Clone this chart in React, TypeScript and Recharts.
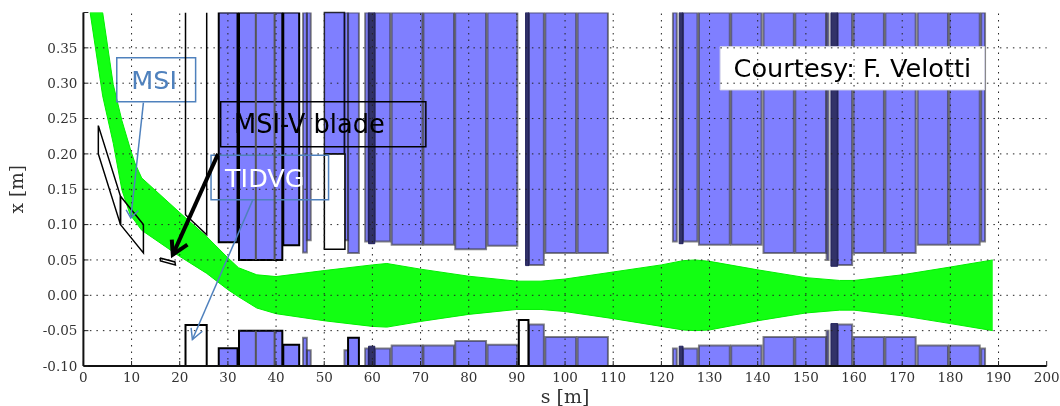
import React from 'react';
import { ComposedChart, XAxis, YAxis, Area, Line, ReferenceArea, ReferenceLine } from 'recharts';

const xTicks = [0,10,20,30,40,50,60,70,80,90,100,110,120,130,140,150,160,170,180,190,200];
const yTicks = [-0.1,-0.05,0,0.05,0.1,0.15,0.2,0.25,0.3,0.35,0.4];

const beamS =  [1.4,4,6.2,8,9.7,10.7,12.1,20,25.6,30,32.2,36,40,50,60,63,70,80,90,95,100,110,120,124.5,127,130,140,150,157,160,170,180,188.8];
const beamHi = [.4,.4,.298,.247,.208,.187,.166,.117,.083,.053,.039,.029,.0265,.035,.043,.045,.037,.027,.02,.02,.023,.033,.043,.049,.05,.048,.036,.025,.021,.021,.029,.04,.05];
const beamLo = [.4,.282,.215,.149,.114,.105,.092,.055,.031,.008,-.002,-.018,-.026,-.036,-.044,-.045,-.037,-.027,-.02,-.02,-.023,-.033,-.044,-.049,-.05,-.049,-.036,-.025,-.021,-.021,-.029,-.04,-.05];

// [s start, s end, lower edge of upper jaw, upper edge of lower jaw]
const magnets = [
  [45.6,46.4,.0607,-.06],[46.4,47.2,.0777,-.0777],
  [54.2,54.95,.0777,-.0777],
  [58.5,59.2,.076,-.0753],[60.5,63.7,.076,-.0753],
  [64,70.4,.0716,-.071],[70.6,76.95,.0716,-.071],[77.2,83.6,.065,-.0645],[83.9,90.1,.07,-.07],
  [92.5,95.6,.043,-.0414],[95.9,102.3,.06,-.059],[102.6,108.9,.06,-.059],
  [122.4,123.2,.076,-.0753],[124.5,127.5,.076,-.0753],
  [127.8,134.2,.0716,-.071],[134.5,140.8,.0716,-.071],[141.2,147.5,.06,-.059],[147.8,154.2,.06,-.059],
  [154.3,154.7,.05,-.05],[156.6,159.6,.043,-.0414],[159.9,166.2,.06,-.059],[166.5,172.8,.06,-.059],
  [173.2,179.5,.0716,-.071],[179.8,186.1,.0716,-.071],[186.4,187.2,.076,-.0753],
];
const outlinedMagnets = [[28.1,32,.075,-.075],[32.3,41.3,.05,-.05],[41.5,44.8,.0707,-.07]];
const lowerOutlined = [[54.95,57.2,.06,-.06]];
const darkBands = [[59.2,60.5,.073,-.072],[91.8,92.5,.042,-.0414],[123.7,124.5,.073,-.072],[155.2,156.6,.041,-.04]];
const stripes = [35.8,39.7];
const upperOnly = [50.03,54.2,.2];
const whiteBoxUpper = [50.03,54.3,.065,.2];
const whiteBoxes = [[21.2,25.6,-.1,-.042],[90.4,92.4,-.1,-.035]];

const msiA = [[3.1,.24],[3.1,.2],[7.7,.1],[7.7,.14],[3.1,.24]];
const msiB = [[7.7,.14],[12.46,.1],[12.46,.06],[7.7,.1],[7.7,.14]];
const blade = [[15.9,.0528],[19,.0472],[19.1,.0429],[16,.0485],[15.9,.0528]];
const tidvgUp = [[21.2,.4],[21.2,.114],[25.6,.0857],[25.6,.4]];
const bladeShaft = [[27.96,.2],[18.56,.0575]];
const bladeHead = [[18.35,.0787],[18.56,.0575],[21.6,.0716]];
const msiShaft = [[12.46,.2726],[9.84,.1093]];
const msiHead = [[8.86,.121],[9.84,.1093],[11.42,.12]];
const tidvgShaft = [[35.17,.135],[22.63,-.0626]];
const tidvgHead = [[22.36,-.046],[22.63,-.0626],[24.7,-.0508]];

const beam = beamS.map((s, i) => ({ s, range: [beamLo[i], beamHi[i]] }));
const pts = (a: number[][]) => a.map(([s, y]) => ({ s, y }));

const BLUE = '#0000ff';
const ANN = '#4f81bd';
const serif = '"DejaVu Serif", serif';
const sans = '"DejaVu Sans", sans-serif';

function jaw(m: number[][], key: string, fill: string, fo: number, stroke: string, so: number, sw: number, up = true, low = true) {
  const out: any[] = [];
  m.forEach((r, i) => {
    if (up) out.push(<ReferenceArea key={`${key}u${i}`} x1={r[0]} x2={r[1]} y1={r[2]} y2={0.4} fill={fill} fillOpacity={fo} stroke={stroke} strokeOpacity={so} strokeWidth={sw} ifOverflow="hidden" />);
    if (low) out.push(<ReferenceArea key={`${key}l${i}`} x1={r[0]} x2={r[1]} y1={-0.1} y2={r[3]} fill={fill} fillOpacity={fo} stroke={stroke} strokeOpacity={so} strokeWidth={sw} ifOverflow="hidden" />);
  });
  return out;
}

function poly(a: number[][], key: string, stroke: string, w: number) {
  return <Line key={key} data={pts(a)} dataKey="y" stroke={stroke} strokeWidth={w} dot={false} activeDot={false} isAnimationActive={false} legendType="none" />;
}

export default function App() {
  return (
    <div style={{ position: 'absolute', left: 0, top: 0, width: 1060, height: 406, filter: 'blur(0.45px)' }}>
      <ComposedChart width={1060} height={406} data={beam} margin={{ top: 12.5, right: 13.3, bottom: 0, left: 0 }}>
        <XAxis xAxisId={0} dataKey="s" type="number" domain={[0, 200]} ticks={xTicks} interval={0} allowDataOverflow height={40}
          axisLine={{ stroke: '#111', strokeWidth: 2 }} tickLine={{ stroke: '#222' }} tickSize={-5} tickMargin={11}
          tick={{ fill: '#333', fontSize: 13.5, fontFamily: serif }}
          label={{ value: 's [m]', position: 'insideBottom', offset: 3, fill: '#333', fontSize: 19, fontFamily: serif }} />
        <XAxis xAxisId="top" orientation="top" dataKey="s" type="number" domain={[0, 200]} ticks={xTicks} interval={0} allowDataOverflow height={0}
          axisLine={{ stroke: '#333', strokeWidth: 1.5 }} tickLine={{ stroke: '#222' }} tickSize={-5} tick={false} />
        <YAxis yAxisId={0} type="number" domain={[-0.1, 0.4]} ticks={yTicks} interval={0} allowDataOverflow width={83.4}
          axisLine={{ stroke: '#111', strokeWidth: 2 }} tickLine={{ stroke: '#222' }} tickSize={-5} tickMargin={11}
          tick={{ fill: '#333', fontSize: 13.5, fontFamily: serif }}
          tickFormatter={(v: number) => (v > 0.39 ? '' : v.toFixed(2))}
          label={{ value: 'x [m]', angle: -90, position: 'insideLeft', offset: 16, textAnchor: 'middle', fill: '#333', fontSize: 18.5, fontFamily: serif }} />
        <YAxis yAxisId="right" orientation="right" type="number" domain={[-0.1, 0.4]} ticks={yTicks} interval={0} allowDataOverflow width={0}
          axisLine={{ stroke: '#333', strokeWidth: 1.5 }} tickLine={{ stroke: '#222' }} tickSize={-5} tick={false} />

        {jaw(magnets, 'm', BLUE, 0.5, '#333', 0.6, 2)}
        <ReferenceArea x1={upperOnly[0]} x2={upperOnly[1]} y1={upperOnly[2]} y2={0.4} fill={BLUE} fillOpacity={0.5} stroke="#000" strokeOpacity={0.8} strokeWidth={1.5} />
        {jaw(outlinedMagnets, 'o', BLUE, 0.5, '#000', 1, 2)}
        {jaw(lowerOutlined, 'lu', BLUE, 0.5, '#333', 0.6, 2, true, false)}
        {jaw(lowerOutlined, 'll', BLUE, 0.5, '#000', 1, 2, false, true)}
        {jaw(darkBands, 'd', '#1c1c58', 0.9, '#1c1c58', 0.9, 1)}
        {stripes.map((s, i) => (
          <ReferenceLine key={`t${i}`} segment={[{ x: s, y: 0.05 }, { x: s, y: 0.4 }]} stroke="#555" strokeWidth={2} />
        ))}
        {stripes.map((s, i) => (
          <ReferenceLine key={`b${i}`} segment={[{ x: s, y: -0.1 }, { x: s, y: -0.05 }]} stroke="#555" strokeWidth={2} />
        ))}
        <ReferenceArea x1={whiteBoxUpper[0]} x2={whiteBoxUpper[1]} y1={whiteBoxUpper[2]} y2={whiteBoxUpper[3]} fill="#fff" fillOpacity={1} stroke="#000" strokeWidth={1.5} />
        {whiteBoxes.map((b, i) => (
          <ReferenceArea key={`w${i}`} x1={b[0]} x2={b[1]} y1={b[2]} y2={b[3]} fill="#fff" fillOpacity={1} stroke="#000" strokeWidth={2} />
        ))}

        <Area dataKey="range" type="linear" fill="#12ff12" fillOpacity={1} stroke="#00f000" strokeWidth={1} dot={false} activeDot={false} isAnimationActive={false} />

        {xTicks.slice(1, -1).map((s) => (
          <ReferenceLine key={`gx${s}`} x={s} stroke="#222" strokeWidth={1} strokeDasharray="1.5 5" />
        ))}
        {yTicks.slice(1, -1).map((y) => (
          <ReferenceLine key={`gy${y}`} y={y} stroke="#222" strokeWidth={1} strokeDasharray="1.5 5" />
        ))}

        {poly(msiA, 'msiA', '#000', 1.5)}
        {poly(msiB, 'msiB', '#000', 1.5)}
        {poly(blade, 'blade', '#000', 1.5)}
        {poly(tidvgUp, 'tu', '#000', 1.5)}

        <ReferenceArea x1={6.93} x2={23.3} y1={0.2736} y2={0.336} fill="none" fillOpacity={0} stroke={ANN} strokeWidth={1.5}
          label={{ value: 'MSI', position: 'insideLeft', offset: 14.5, fill: ANN, fontSize: 25.5, fontFamily: sans }} />
        <ReferenceArea x1={28.5} x2={71.1} y1={0.21} y2={0.2736} fill="none" fillOpacity={0} stroke="#000" strokeWidth={1.5}
          label={{ value: 'MSI-V blade', position: 'insideLeft', offset: 13.3, fill: '#000', fontSize: 25.7, fontFamily: sans }} />
        <ReferenceArea x1={26.5} x2={50.9} y1={0.135} y2={0.198} fill="none" fillOpacity={0} stroke={ANN} strokeWidth={1.5}
          label={{ value: 'TIDVG', position: 'insideLeft', offset: 14, fill: '#fff', fontSize: 25.5, fontFamily: sans }} />
        <ReferenceArea x1={132.2} x2={187.1} y1={0.2905} y2={0.3517} fill="#fff" fillOpacity={1} stroke="#d8d8e8" strokeWidth={1}
          label={{ value: 'Courtesy: F. Velotti', position: 'center', fill: '#000', fontSize: 25.6, fontFamily: sans }} />

        {poly(msiShaft, 'ms', ANN, 1.5)}
        {poly(msiHead, 'mh', ANN, 1.5)}
        {poly(tidvgShaft, 'ts', ANN, 1.5)}
        {poly(tidvgHead, 'th', ANN, 1.5)}
        {poly(bladeShaft, 'bs', '#000', 4)}
        {poly(bladeHead, 'bh', '#000', 4)}
      </ComposedChart>
    </div>
  );
}
